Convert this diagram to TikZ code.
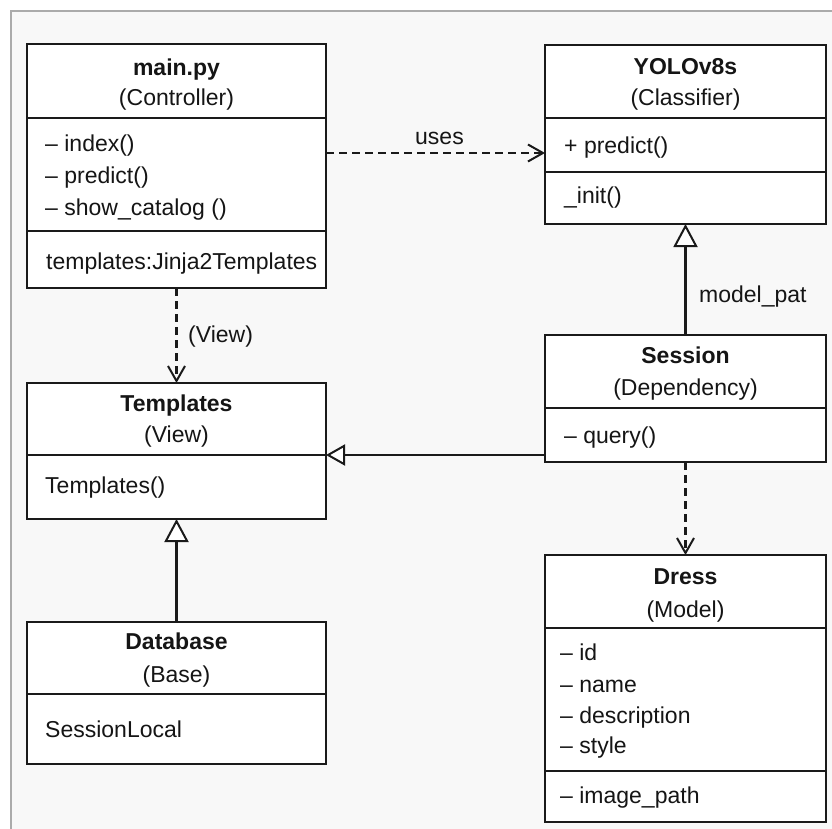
\documentclass[tikz,border=0pt]{standalone}
\usepackage{fontspec}
\setmainfont{Liberation Sans}
\usetikzlibrary{arrows.meta}
\definecolor{ink}{HTML}{1A1A1A}
\definecolor{txt}{HTML}{151515}
\definecolor{bg}{HTML}{F8F8F8}
\definecolor{frame}{HTML}{ABABAB}
\begin{document}
\begin{tikzpicture}[x=1pt,y=-1pt,
  box/.style={draw=ink, line width=2.2pt, fill=white, rectangle, inner sep=0pt, outer sep=0pt},
  ln/.style={draw=ink, line width=2.2pt},
  ttl/.style={anchor=base, text=txt, inner sep=0pt, font=\fontsize{23}{27}\selectfont\bfseries},
  sub/.style={anchor=base, text=txt, inner sep=0pt, font=\fontsize{23}{27}\selectfont},
  itm/.style={anchor=base west, text=txt, inner sep=0pt, font=\fontsize{23}{27}\selectfont},
  lbl/.style={anchor=base west, text=txt, inner sep=0pt, font=\fontsize{23}{27}\selectfont},
  dep/.style={draw=ink, line width=2.1pt, dash pattern=on 8pt off 5pt, -{Straight Barb[length=15pt, width=17pt, line width=2pt]}},
  gen/.style={draw=ink, line width=2.1pt, -{Triangle[open, length=23pt, width=24pt, line width=2pt, fill=white]}},
]
\useasboundingbox (0,0) rectangle (832,829);
\fill[white] (0,0) rectangle (832,829);
\fill[bg] (11,11) rectangle (832,829);
\draw[frame, line width=2pt] (11,829) -- (11,11) -- (832,11);

% boxes
\node[box, minimum width=299pt, minimum height=244pt] (main) at (176.5,166) {};
\node[box, minimum width=281pt, minimum height=179pt] (yolo) at (685.5,134.5) {};
\node[box, minimum width=281pt, minimum height=127pt] (sess) at (685.5,398.5) {};
\node[box, minimum width=299pt, minimum height=136pt] (tmpl) at (176.5,451) {};
\node[box, minimum width=299pt, minimum height=142pt] (db) at (176.5,693) {};
\node[box, minimum width=281pt, minimum height=267pt] (dress) at (685.5,688.5) {};

% dividers
\draw[ln] (main.west |- 0,118) -- (main.east |- 0,118);
\draw[ln] (main.west |- 0,231) -- (main.east |- 0,231);
\draw[ln] (yolo.west |- 0,118) -- (yolo.east |- 0,118);
\draw[ln] (yolo.west |- 0,172) -- (yolo.east |- 0,172);
\draw[ln] (sess.west |- 0,408) -- (sess.east |- 0,408);
\draw[ln] (tmpl.west |- 0,455) -- (tmpl.east |- 0,455);
\draw[ln] (db.west |- 0,694) -- (db.east |- 0,694);
\draw[ln] (dress.west |- 0,628) -- (dress.east |- 0,628);
\draw[ln] (dress.west |- 0,771) -- (dress.east |- 0,771);

% main.py
\node[ttl] (mainT) at (176.5,76) {main.py};
\node[sub] (mainS) at (176.5,106) {(Controller)};
\node[itm] (mainA) at (45,152) {-- index()};
\node[itm] (mainB) at (45,184) {-- predict()};
\node[itm] (mainC) at (45,215) {-- show\_catalog ()};
\node[itm] (mainD) at (46,269) {templates:Jinja2Templates};

% YOLOv8s
\node[ttl] (yoloT) at (685.5,75) {YOLOv8s};
\node[sub] (yoloS) at (685.5,106) {(Classifier)};
\node[itm] (yoloA) at (564,154) {+ predict()};
\node[itm] (yoloB) at (564,204) {\_init()};

% Session
\node[ttl] (sessT) at (685.5,363) {Session};
\node[sub] (sessS) at (685.5,395) {(Dependency)};
\node[itm] (sessA) at (564,443) {-- query()};

% Templates
\node[ttl] (tmplT) at (176.5,411) {Templates};
\node[sub] (tmplS) at (176.5,442) {(View)};
\node[itm] (tmplA) at (45,493) {Templates()};

% Database
\node[ttl] (dbT) at (176.5,649) {Database};
\node[sub] (dbS) at (176.5,682) {(Base)};
\node[itm] (dbA) at (45,737) {SessionLocal};

% Dress
\node[ttl] (dressT) at (685.5,584) {Dress};
\node[sub] (dressS) at (685.5,617) {(Model)};
\node[itm] (dressA) at (560,660) {-- id};
\node[itm] (dressB) at (560,692) {-- name};
\node[itm] (dressC) at (560,723) {-- description};
\node[itm] (dressD) at (560,753) {-- style};
\node[itm] (dressE) at (560,803) {-- image\_path};

% connectors
\coordinate (uy) at (0,153);
\coordinate (gy) at (0,455);
\draw[dep] (main.east |- uy) -- (yolo.west |- uy);
\node[lbl] (usesL) at (415,145) {uses};
\draw[dep] (main.south) -- (tmpl.north);
\node[lbl] (viewL) at (188,342) {(View)};
\draw[gen] (sess.north) -- (yolo.south);
\node[lbl] (modelL) at (699,302) {model\_pat};
\draw[gen, -{Triangle[open, length=19pt, width=21pt, line width=2pt, fill=white]}] (sess.west |- gy) -- (tmpl.east |- gy);
\draw[gen] (db.north) -- (tmpl.south);
\draw[dep] (sess.south) -- (dress.north);
\end{tikzpicture}
\end{document}
